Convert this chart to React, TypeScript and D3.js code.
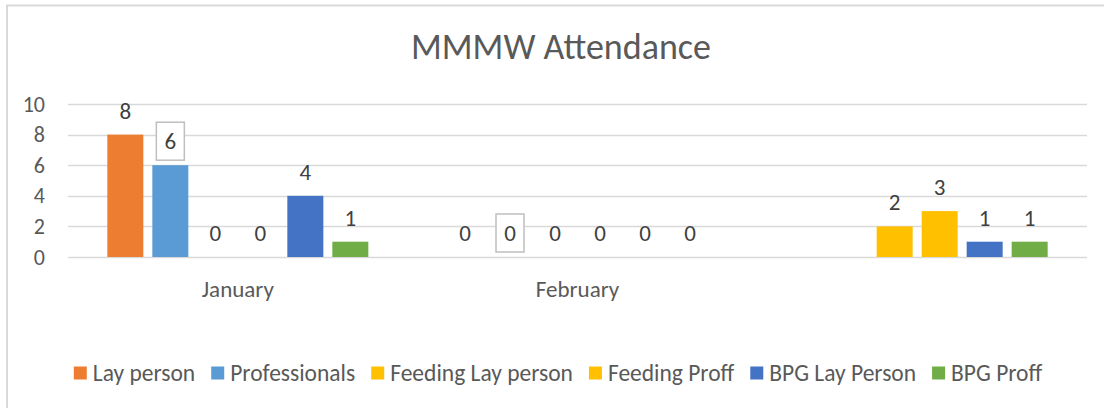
import React from 'react'
import * as d3 from 'd3'

// chart data
const categories = ['January', 'February', '']
const seriesNames = ['Lay person', 'Professionals', 'Feeding Lay person', 'Feeding Proff', 'BPG Lay Person', 'BPG Proff']
const seriesColors = ['#ED7D31', '#5B9BD5', '#FFC000', '#FFC000', '#4472C4', '#70AD47']
const layPerson = [8, 0, null]
const professionals = [6, 0, null]
const feedingLay = [0, 0, 2]
const feedingProff = [0, 0, 3]
const bpgLay = [4, 0, 1]
const bpgProff = [1, 0, 1]
const yTicks = [0, 2, 4, 6, 8, 10]
const boxedSeries = 'Professionals'

const allSeries = [layPerson, professionals, feedingLay, feedingProff, bpgLay, bpgProff]

const W = 1104
const H = 408
const FONT = "Calibri, Carlito, 'Open Sans', sans-serif"

export default function App() {
  const legendRef = React.useRef<SVGGElement>(null)

  const x0 = d3.scaleBand().domain(categories.map((c, i) => String(i))).range([68, 1087]).padding(0)
  const groupW = 270
  const x1 = d3
    .scaleBand()
    .domain(seriesNames)
    .range([(x0.bandwidth() - groupW) / 2, (x0.bandwidth() + groupW) / 2])
    .paddingInner(0.2)
    .paddingOuter(0.1)
  const y = d3.scaleLinear().domain([0, 10]).range([257, 104])

  // lay out legend entries one after another using measured text widths
  React.useEffect(() => {
    const g = d3.select(legendRef.current)
    const items = g.selectAll<SVGGElement, unknown>('g.item')
    const widths: number[] = []
    items.each(function () {
      const t = d3.select(this).select('text').node() as SVGTextElement
      widths.push(13 + 6 + t.getComputedTextLength())
    })
    const gap = 16
    const total = d3.sum(widths) + gap * (widths.length - 1)
    let cx = 558 - total / 2
    items.each(function (_, i) {
      d3.select(this).attr('transform', `translate(${cx},0)`)
      cx += widths[i] + gap
    })
  }, [])

  return (
    <svg width={W} height={H} style={{ position: 'absolute', left: 0, top: 0 }} fontFamily={FONT}>
      <rect x={0} y={0} width={W} height={H} fill="#fff" />
      <rect x={7} y={5.5} width={W + 20} height={H + 20} fill="none" stroke="#d9d9d9" strokeWidth={2} />

      <text x={561} y={47} textAnchor="middle" dominantBaseline="central" fontSize={36} fill="#595959">
        MMMW Attendance
      </text>

      {yTicks.map(t => (
        <g key={t}>
          <line x1={68} x2={1087} y1={Math.round(y(t)) + 0.5} y2={Math.round(y(t)) + 0.5} stroke="#d9d9d9" strokeWidth={1.5} />
          <text x={45} y={y(t)} textAnchor="end" dominantBaseline="central" fontSize={22} fill="#595959">
            {t}
          </text>
        </g>
      ))}

      {categories.map((c, ci) => (
        <g key={ci} transform={`translate(${x0(String(ci))},0)`}>
          {allSeries.map((s, si) => {
            const v = s[ci]
            if (v === null) return null
            const bx = x1(seriesNames[si])!
            const bw = x1.bandwidth()
            const cx = bx + bw / 2
            const ly = y(v) - 24
            return (
              <g key={si}>
                {v > 0 && <rect x={bx} y={y(v)} width={bw} height={y(0) - y(v)} fill={seriesColors[si]} />}
                {seriesNames[si] === boxedSeries && (
                  <rect x={cx - 14} y={ly - 19} width={28} height={38} fill="#fff" stroke="#bfbfbf" strokeWidth={1.5} />
                )}
                <text x={cx} y={ly} textAnchor="middle" dominantBaseline="central" fontSize={23} fill="#404040">
                  {v}
                </text>
              </g>
            )
          })}
          <text x={x0.bandwidth() / 2} y={289} textAnchor="middle" dominantBaseline="central" fontSize={23} fill="#595959">
            {c}
          </text>
        </g>
      ))}

      <g ref={legendRef} transform="translate(0,373)">
        {seriesNames.map((n, i) => (
          <g className="item" key={n}>
            <rect x={0} y={-6.5} width={13} height={13} fill={seriesColors[i]} />
            <text x={19} y={0} dominantBaseline="central" fontSize={23.5} fill="#595959">
              {n}
            </text>
          </g>
        ))}
      </g>
    </svg>
  )
}
